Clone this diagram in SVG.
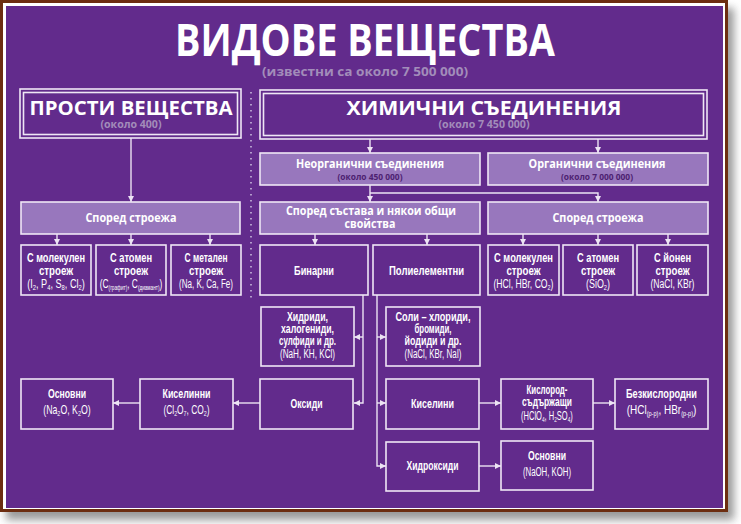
<svg xmlns="http://www.w3.org/2000/svg" width="741" height="524" viewBox="0 0 741 524">
<defs>
<filter id="sh" x="-5%" y="-5%" width="110%" height="110%"><feGaussianBlur stdDeviation="4"/></filter>
<marker id="ah" markerUnits="userSpaceOnUse" markerWidth="7" markerHeight="6" refX="6" refY="3" orient="auto"><path d="M0,0 L6,3 L0,6 z" fill="#ece3f3"/></marker>
<style>
.bx{fill:#622b8c;stroke:#efe6f5;stroke-width:1.6}
.lt{fill:#9877bd;stroke:#efe6f5;stroke-width:1.6}
.hd{fill:none;stroke:#efe6f5;stroke-width:1.6}
.t{font-family:"Liberation Sans",Arial,sans-serif;font-weight:bold;fill:#ffffff;text-anchor:middle;font-size:13.5px}
.f{font-weight:normal;font-size:12.5px}
.s{font-size:8px}
.s7{font-size:7px}
.g{fill:#a28dba;font-family:"Open Sans","Liberation Sans",sans-serif;font-weight:bold;text-anchor:middle}
.d{fill:#4d2271;font-family:"Open Sans","Liberation Sans",sans-serif;font-weight:bold;text-anchor:middle;font-size:9px}
.w{font-family:"Open Sans","Liberation Sans",sans-serif;font-weight:bold;fill:#ffffff;text-anchor:middle}
.c{fill:none;stroke:#ece3f3;stroke-width:1.4}
.a{marker-end:url(#ah)}
</style>
</defs>
<rect x="0" y="0" width="741" height="524" fill="#ffffff"/>
<rect x="6" y="8" width="728" height="512" fill="#9a9a9a" filter="url(#sh)"/>
<rect x="0" y="0" width="728" height="512" fill="#6c2d10"/>
<rect x="3" y="3" width="722" height="506" fill="#ffffff"/>
<rect x="6" y="6" width="717" height="502" fill="#622b8c"/>

<g id="title">
<text x="365" y="56" class="w" font-size="44" textLength="380" lengthAdjust="spacingAndGlyphs">ВИДОВЕ ВЕЩЕСТВА</text>
<text x="365" y="76" class="g" font-size="12.5" textLength="206" lengthAdjust="spacingAndGlyphs">(известни са около 7 500 000)</text>
</g>
<line x1="251" y1="92" x2="251" y2="300" stroke="#c9b8dc" stroke-width="1.6" stroke-dasharray="1.6 4.4"/>

<g id="connectors">
<path class="c a" d="M131,138 V202"/>
<path class="c a" d="M57,234 V245"/>
<path class="c a" d="M131,234 V245"/>
<path class="c a" d="M210,234 V245"/>
<path class="c a" d="M370,139 V153"/>
<path class="c a" d="M598,139 V153"/>
<path class="c a" d="M370,185 V202"/>
<path class="c a" d="M370,193 H598 V202"/>
<path class="c a" d="M523,234 V245"/>
<path class="c a" d="M598,234 V245"/>
<path class="c a" d="M668,234 V245"/>
<path class="c a" d="M315,234 V245"/>
<path class="c a" d="M427,234 V245"/>
<path class="c a" d="M363,295 V403 H354"/>
<path class="c a" d="M363,337 H354"/>
<path class="c a" d="M377,295 V466 H386"/>
<path class="c a" d="M377,337 H386"/>
<path class="c a" d="M377,403 H386"/>
<path class="c a" d="M260,403 H233"/>
<path class="c a" d="M140,403 H113"/>
<path class="c a" d="M479,403 H501"/>
<path class="c a" d="M593,403 H615"/>
<path class="c a" d="M479,466 H501"/>
</g>

<g id="prosti">
<rect class="hd" x="20" y="89" width="221" height="49"/>
<rect class="hd" x="23.5" y="92.5" width="214" height="42"/>
<text x="131" y="115" class="w" font-size="19" textLength="203" lengthAdjust="spacingAndGlyphs">ПРОСТИ ВЕЩЕСТВА</text>
<text x="131" y="128" class="g" font-size="10" textLength="61" lengthAdjust="spacingAndGlyphs">(около 400)</text>
</g>
<g id="himichni">
<rect class="hd" x="260" y="90" width="447" height="49"/>
<rect class="hd" x="263.5" y="93.5" width="440" height="42"/>
<text x="484" y="115" class="w" font-size="19" textLength="275" lengthAdjust="spacingAndGlyphs">ХИМИЧНИ СЪЕДИНЕНИЯ</text>
<text x="484" y="128" class="g" font-size="10" textLength="91" lengthAdjust="spacingAndGlyphs">(около 7 450 000)</text>
</g>

<g id="spored-l">
<rect class="lt" x="21" y="202" width="219" height="32"/>
<text x="131" y="222" class="w" font-size="12" textLength="91" lengthAdjust="spacingAndGlyphs">Според строежа</text>
</g>
<g id="mol-l">
<rect class="bx" x="21" y="245" width="70" height="50"/>
<text class="t" x="56" y="262" textLength="58" lengthAdjust="spacingAndGlyphs">С молекулен</text>
<text class="t" x="56" y="275" textLength="34" lengthAdjust="spacingAndGlyphs">строеж</text>
<text class="t f" transform="translate(56,288) scale(0.73,1)">(I<tspan class="s" dy="2">2</tspan><tspan dy="-2">, P</tspan><tspan class="s" dy="2">4</tspan><tspan dy="-2">, S</tspan><tspan class="s" dy="2">8</tspan><tspan dy="-2">, Cl</tspan><tspan class="s" dy="2">2</tspan><tspan dy="-2">)</tspan></text>
</g>
<g id="atom-l">
<rect class="bx" x="96" y="245" width="70" height="50"/>
<text class="t" x="131" y="262" textLength="42" lengthAdjust="spacingAndGlyphs">С атомен</text>
<text class="t" x="131" y="275" textLength="34" lengthAdjust="spacingAndGlyphs">строеж</text>
<text class="t f" transform="translate(131,288) scale(0.67,1)">(C<tspan class="s7" dy="2">(графит)</tspan><tspan dy="-2">, C</tspan><tspan class="s7" dy="2">(диамант)</tspan><tspan dy="-2">)</tspan></text>
</g>
<g id="metal-l">
<rect class="bx" x="171" y="245" width="70" height="50"/>
<text class="t" x="206" y="262" textLength="43" lengthAdjust="spacingAndGlyphs">С метален</text>
<text class="t" x="206" y="275" textLength="34" lengthAdjust="spacingAndGlyphs">строеж</text>
<text class="t f" x="206" y="288" textLength="54" lengthAdjust="spacingAndGlyphs">(Na, K, Ca, Fe)</text>
</g>

<g id="neorg">
<rect class="lt" x="260" y="153" width="220" height="32"/>
<text x="370" y="168" class="w" font-size="11.5" textLength="148" lengthAdjust="spacingAndGlyphs">Неорганични съединения</text>
<text x="370" y="179.5" class="d" textLength="65" lengthAdjust="spacingAndGlyphs">(около 450 000)</text>
</g>
<g id="org">
<rect class="lt" x="488" y="153" width="220" height="32"/>
<text x="597" y="168" class="w" font-size="11.5" textLength="137" lengthAdjust="spacingAndGlyphs">Органични съединения</text>
<text x="597" y="179.5" class="d" textLength="72" lengthAdjust="spacingAndGlyphs">(около 7 000 000)</text>
</g>
<g id="sastav">
<rect class="lt" x="260" y="202" width="220" height="32"/>
<text x="371" y="215" class="w" font-size="11.5" textLength="170" lengthAdjust="spacingAndGlyphs">Според състава и някои общи</text>
<text x="370" y="228" class="w" font-size="11.5" textLength="51" lengthAdjust="spacingAndGlyphs">свойства</text>
</g>
<g id="spored-r">
<rect class="lt" x="488" y="202" width="220" height="32"/>
<text x="598" y="222" class="w" font-size="12" textLength="91" lengthAdjust="spacingAndGlyphs">Според строежа</text>
</g>
<g id="mol-r">
<rect class="bx" x="488" y="245" width="71" height="50"/>
<text class="t" x="523.5" y="262" textLength="59" lengthAdjust="spacingAndGlyphs">С молекулен</text>
<text class="t" x="523.5" y="275" textLength="34" lengthAdjust="spacingAndGlyphs">строеж</text>
<text class="t f" transform="translate(523.5,288) scale(0.69,1)">(HCl, HBr, CO<tspan class="s" dy="2">2</tspan><tspan dy="-2">)</tspan></text>
</g>
<g id="atom-r">
<rect class="bx" x="563" y="245" width="70" height="50"/>
<text class="t" x="598" y="262" textLength="42" lengthAdjust="spacingAndGlyphs">С атомен</text>
<text class="t" x="598" y="275" textLength="34" lengthAdjust="spacingAndGlyphs">строеж</text>
<text class="t f" transform="translate(598,288) scale(0.71,1)">(SiO<tspan class="s" dy="2">2</tspan><tspan dy="-2">)</tspan></text>
</g>
<g id="ion-r">
<rect class="bx" x="637" y="245" width="71" height="50"/>
<text class="t" x="672.5" y="262" textLength="37" lengthAdjust="spacingAndGlyphs">С йонен</text>
<text class="t" x="672.5" y="275" textLength="34" lengthAdjust="spacingAndGlyphs">строеж</text>
<text class="t f" x="672.5" y="288" textLength="44" lengthAdjust="spacingAndGlyphs">(NaCl, KBr)</text>
</g>

<g id="binarni">
<rect class="bx" x="260" y="245" width="108" height="50"/>
<text class="t" x="314" y="275" textLength="40" lengthAdjust="spacingAndGlyphs">Бинарни</text>
</g>
<g id="poli">
<rect class="bx" x="373" y="245" width="107" height="50"/>
<text class="t" x="426.5" y="275" textLength="75" lengthAdjust="spacingAndGlyphs">Полиелементни</text>
</g>
<g id="hidridi">
<rect class="bx" x="261" y="307" width="93" height="59"/>
<text class="t" x="307.5" y="321" textLength="41" lengthAdjust="spacingAndGlyphs">Хидриди,</text>
<text class="t" x="307.5" y="333" textLength="53" lengthAdjust="spacingAndGlyphs">халогениди,</text>
<text class="t" x="307.5" y="345" textLength="57" lengthAdjust="spacingAndGlyphs">сулфиди и др.</text>
<text class="t f" x="307.5" y="358" textLength="55" lengthAdjust="spacingAndGlyphs">(NaH, KH, KCl)</text>
</g>
<g id="soli">
<rect class="bx" x="386" y="307" width="94" height="59"/>
<text class="t" x="433" y="321" textLength="75" lengthAdjust="spacingAndGlyphs">Соли – хлориди,</text>
<text class="t" x="433" y="333" textLength="37" lengthAdjust="spacingAndGlyphs">бромиди,</text>
<text class="t" x="433" y="345" textLength="57" lengthAdjust="spacingAndGlyphs">йодиди и др.</text>
<text class="t f" x="433" y="358" textLength="57" lengthAdjust="spacingAndGlyphs">(NaCl, KBr, NaI)</text>
</g>

<g id="osnovni-l">
<rect class="bx" x="21" y="379" width="92" height="50"/>
<text class="t" x="67" y="398" textLength="38" lengthAdjust="spacingAndGlyphs">Основни</text>
<text class="t f" transform="translate(67,414) scale(0.7,1)">(Na<tspan class="s" dy="2">2</tspan><tspan dy="-2">O, K</tspan><tspan class="s" dy="2">2</tspan><tspan dy="-2">O)</tspan></text>
</g>
<g id="kiselinni">
<rect class="bx" x="140" y="379" width="93" height="50"/>
<text class="t" x="186.5" y="398" textLength="48" lengthAdjust="spacingAndGlyphs">Киселинни</text>
<text class="t f" transform="translate(186.5,414) scale(0.67,1)">(Cl<tspan class="s" dy="2">2</tspan><tspan dy="-2">O</tspan><tspan class="s" dy="2">7</tspan><tspan dy="-2">, CO</tspan><tspan class="s" dy="2">2</tspan><tspan dy="-2">)</tspan></text>
</g>
<g id="oksidi">
<rect class="bx" x="260" y="379" width="93" height="50"/>
<text class="t" x="306.5" y="408" textLength="32" lengthAdjust="spacingAndGlyphs">Оксиди</text>
</g>
<g id="kiselini">
<rect class="bx" x="386" y="379" width="93" height="50"/>
<text class="t" x="432.5" y="408" textLength="43" lengthAdjust="spacingAndGlyphs">Киселини</text>
</g>
<g id="kislorod">
<rect class="bx" x="501" y="379" width="92" height="50"/>
<text class="t" x="547" y="394" textLength="41" lengthAdjust="spacingAndGlyphs">Кислород-</text>
<text class="t" x="547" y="406" textLength="50" lengthAdjust="spacingAndGlyphs">съдържащи</text>
<text class="t f" transform="translate(547,420) scale(0.6,1)">(HClO<tspan class="s" dy="2">4</tspan><tspan dy="-2">, H</tspan><tspan class="s" dy="2">2</tspan><tspan dy="-2">SO</tspan><tspan class="s" dy="2">4</tspan><tspan dy="-2">)</tspan></text>
</g>
<g id="bezkislorod">
<rect class="bx" x="615" y="379" width="93" height="50"/>
<text class="t" x="661.5" y="398" textLength="71" lengthAdjust="spacingAndGlyphs">Безкислородни</text>
<text class="t f" transform="translate(661.5,414) scale(0.8,1)">(HCl<tspan class="s7" dy="2">(р-р)</tspan><tspan dy="-2">, HBr</tspan><tspan class="s7" dy="2">(р-р)</tspan><tspan dy="-2">)</tspan></text>
</g>
<g id="hidroksidi">
<rect class="bx" x="386" y="442" width="93" height="49"/>
<text class="t" x="432.5" y="470" textLength="52" lengthAdjust="spacingAndGlyphs">Хидроксиди</text>
</g>
<g id="osnovni-r">
<rect class="bx" x="501" y="441" width="92" height="49"/>
<text class="t" x="547" y="460" textLength="38" lengthAdjust="spacingAndGlyphs">Основни</text>
<text class="t f" x="547" y="476" textLength="48" lengthAdjust="spacingAndGlyphs">(NaOH, KOH)</text>
</g>
</svg>
